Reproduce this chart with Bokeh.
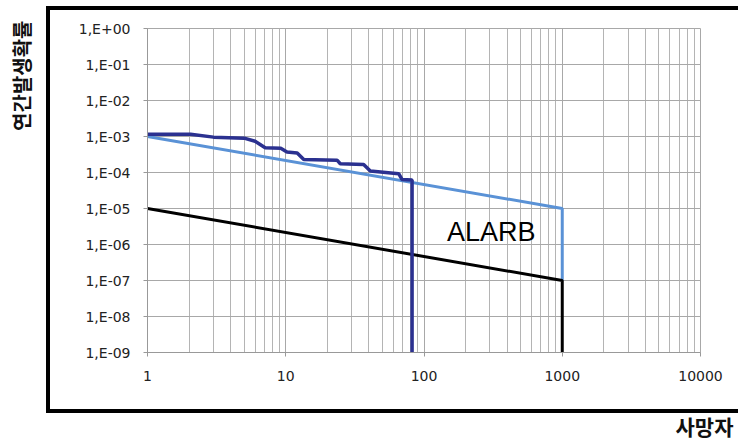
from bokeh.plotting import figure
from bokeh.models import Range1d, FixedTicker, Label, Title, InlineStyleSheet
from bokeh.embed import file_html
from bokeh.resources import INLINE

# ---- data ----
x_ticks = [1, 10, 100, 1000, 10000]
x_tick_labels = ["1", "10", "100", "1000", "10000"]
y_ticks = [10.0 ** e for e in range(-9, 1)]
y_tick_labels = ["1,E-09", "1,E-08", "1,E-07", "1,E-06", "1,E-05",
                 "1,E-04", "1,E-03", "1,E-02", "1,E-01", "1,E+00"]

# upper criterion line (light blue)
upper_x = [1, 1000, 1000]
upper_y = [1e-3, 1e-5, 1e-7]
# lower criterion line (black)
lower_x = [1, 1000, 1000]
lower_y = [1e-5, 1e-7, 1e-9]
# F-N curve (dark blue)
fn_x = [1, 2.05, 3.0, 5.0, 6.0, 7.1, 9.2, 10.2, 12.1, 13.5, 23.5, 24.8,
        36.6, 40.9, 65.6, 69.3, 82, 82]
fn_y = [1.16e-3, 1.16e-3, 9.6e-4, 9.0e-4, 7.4e-4, 4.9e-4, 4.7e-4, 3.7e-4,
        3.5e-4, 2.3e-4, 2.2e-4, 1.75e-4, 1.67e-4, 1.1e-4, 9.3e-5, 6.4e-5,
        6.2e-5, 1e-9]

region_label = "ALARB"
region_x = 307
region_y = 2.2e-6
y_title = "연간발생확률"
x_title = "사망자"

# ---- figure ----
p = figure(width=738, height=440, x_axis_type="log", y_axis_type="log",
           x_range=Range1d(1, 10000), y_range=Range1d(1e-9, 1),
           min_border_left=147, min_border_right=38, min_border_top=28,
           min_border_bottom=86, output_backend="svg", toolbar_location=None)
p.background_fill_color = "white"
p.border_fill_color = "white"
p.outline_line_color = "#a8a8a8"
p.outline_line_width = 1

minor = [m * d for d in [1, 10, 100, 1000] for m in range(2, 10)]
p.xaxis.ticker = FixedTicker(ticks=x_ticks, minor_ticks=minor)
p.yaxis.ticker = FixedTicker(ticks=y_ticks, minor_ticks=[])
p.xaxis.major_label_overrides = {t: l for t, l in zip(x_ticks, x_tick_labels)}
p.yaxis.major_label_overrides = {t: l for t, l in zip(y_ticks, y_tick_labels)}

xa, ya = p.xaxis[0], p.yaxis[0]
for ax in (xa, ya):
    ax.axis_line_color = "#999999"
    ax.major_tick_line_color = "#999999"
    ax.major_tick_out = 4
    ax.major_tick_in = 0
    ax.minor_tick_line_color = None
    ax.major_label_text_font = "DejaVu Sans"
    ax.major_label_text_font_size = "14px"
    ax.major_label_text_color = "#222222"
    # blank axis labels act as spacers before the titles
    ax.axis_label = " "
    ax.axis_label_text_font_size = "13px"
xa.major_label_standoff = 14
ya.major_label_standoff = 13
xa.axis_label_standoff = 7
ya.axis_label_standoff = 22

p.xgrid.grid_line_color = "#a8a8a8"
p.xgrid.minor_grid_line_color = "#b4b4b4"
p.ygrid.grid_line_color = "#a8a8a8"

p.line(upper_x, upper_y, line_color="#5A92D6", line_width=3)
p.line(lower_x, lower_y, line_color="black", line_width=3)
p.line(fn_x, fn_y, line_color="#2B3190", line_width=3.5)

p.add_layout(Label(x=region_x, y=region_y, text=region_label,
                   text_align="center", text_baseline="middle",
                   text_font="Liberation Sans", text_font_size="27px",
                   text_color="black"))

# axis titles
p.add_layout(Title(text=y_title, align="right",
                   text_font="Noto Sans CJK KR", text_font_style="bold",
                   text_font_size="20px", text_color="#111111",
                   standoff=0, offset=-8), "left")
p.add_layout(Title(text=x_title, align="right",
                   text_font="Noto Sans CJK KR", text_font_style="bold",
                   text_font_size="21px", text_color="#111111",
                   standoff=0, offset=-33), "below")

# outer black frame drawn as a CSS overlay on the figure element
p.stylesheets = [InlineStyleSheet(css="""
:host { position: relative; }
:host::after {
  content: "";
  position: absolute;
  left: 46px; top: 6px; width: 730px; height: 407px;
  border: 4.5px solid black;
  box-sizing: border-box;
  pointer-events: none;
}
""")]

open("out.html", "w").write(file_html(p, INLINE))
